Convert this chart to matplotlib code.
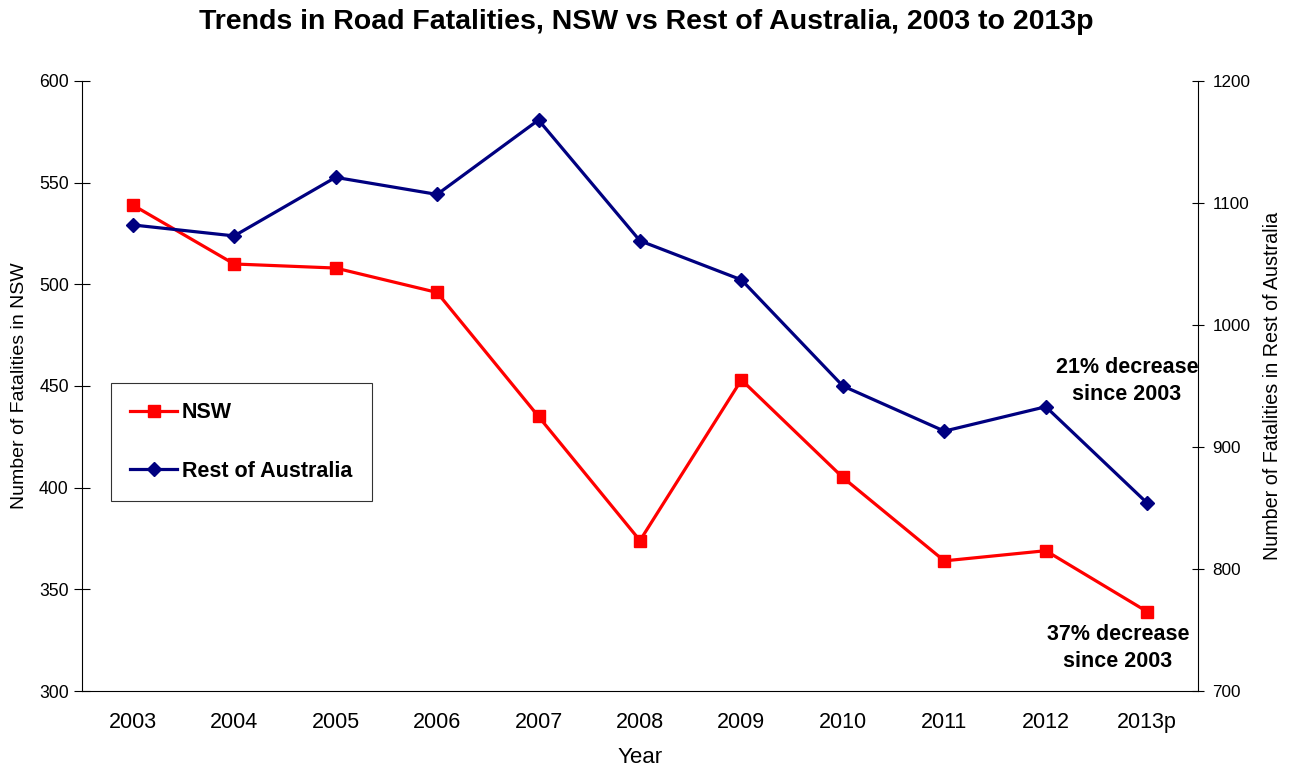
import matplotlib
matplotlib.use("Agg")
import matplotlib.pyplot as plt

plt.rcParams['font.family'] = ['Liberation Sans', 'DejaVu Sans']

years = ["2003", "2004", "2005", "2006", "2007", "2008", "2009", "2010", "2011", "2012", "2013p"]
nsw = [539, 510, 508, 496, 435, 374, 453, 405, 364, 369, 339]
rest_of_australia = [1082, 1073, 1121, 1107, 1168, 1069, 1037, 950, 913, 933, 854]

left_ticks = [300, 350, 400, 450, 500, 550, 600]
right_ticks = [700, 800, 900, 1000, 1100, 1200]

fig = plt.figure(figsize=(12.93, 7.66), dpi=100)
ax = fig.add_axes([0.0634, 0.0979, 0.8631, 0.7964])
ax2 = ax.twinx()

x = list(range(len(years)))
l1, = ax.plot(x, nsw, color="#FF0000", lw=2.3, marker="s", markersize=8.5, label="NSW")
l2, = ax2.plot(x, rest_of_australia, color="#000080", lw=2.3, marker="D", markersize=7.5,
               label="Rest of Australia")

ax.set_xlim(-0.5, len(years) - 0.5)
ax.set_ylim(300, 600)
ax2.set_ylim(700, 1200)
ax.set_yticks(left_ticks)
ax2.set_yticks(right_ticks)
ax.set_xticks(x)
ax.set_xticklabels(years)

ax.spines["top"].set_visible(False)
ax2.spines["top"].set_visible(False)
ax.spines["right"].set_visible(False)
ax2.spines["left"].set_visible(False)
ax2.spines["bottom"].set_visible(False)

ax.tick_params(axis="x", length=0, labelsize=15.5, pad=15)
ax.tick_params(axis="y", direction="inout", length=11, labelsize=12.7, pad=4)
ax2.tick_params(axis="y", direction="inout", length=9, labelsize=12.3, pad=6)

ax.set_xlabel("Year", fontsize=16, labelpad=10)
ax.set_ylabel("Number of Fatalities in NSW", fontsize=14, labelpad=8)
ax2.set_ylabel("Number of Fatalities in Rest of Australia", fontsize=14.2, labelpad=9)

fig.suptitle("Trends in Road Fatalities, NSW vs Rest of Australia, 2003 to 2013p",
             fontsize=20.5, fontweight="bold", x=0.5, y=1 - 22 / 766, va="center")

leg = ax.legend(handles=[l1, l2], loc="upper left", bbox_to_anchor=(0.026, 0.505),
                frameon=True, fancybox=False, prop={"weight": "bold", "size": 15.5},
                labelspacing=1.75, borderpad=0.9, handlelength=2.15, handletextpad=0.25,
                borderaxespad=0)
leg.get_frame().set_edgecolor("black")
leg.get_frame().set_linewidth(0.8)

# Percentage-change notes beside the final (2013p) points
ax2.annotate("21% decrease\nsince 2003", xy=(x[-1], rest_of_australia[-1]),
             xytext=(1127, 766 - 381), textcoords="figure pixels",
             ha="center", va="center", fontsize=15.5, fontweight="bold",
             linespacing=1.35, annotation_clip=False)
ax.annotate("37% decrease\nsince 2003", xy=(x[-1], nsw[-1]),
            xytext=(1118, 766 - 648), textcoords="figure pixels",
            ha="center", va="center", fontsize=15.5, fontweight="bold",
            linespacing=1.35, annotation_clip=False)

fig.savefig("out.png", dpi=100)
